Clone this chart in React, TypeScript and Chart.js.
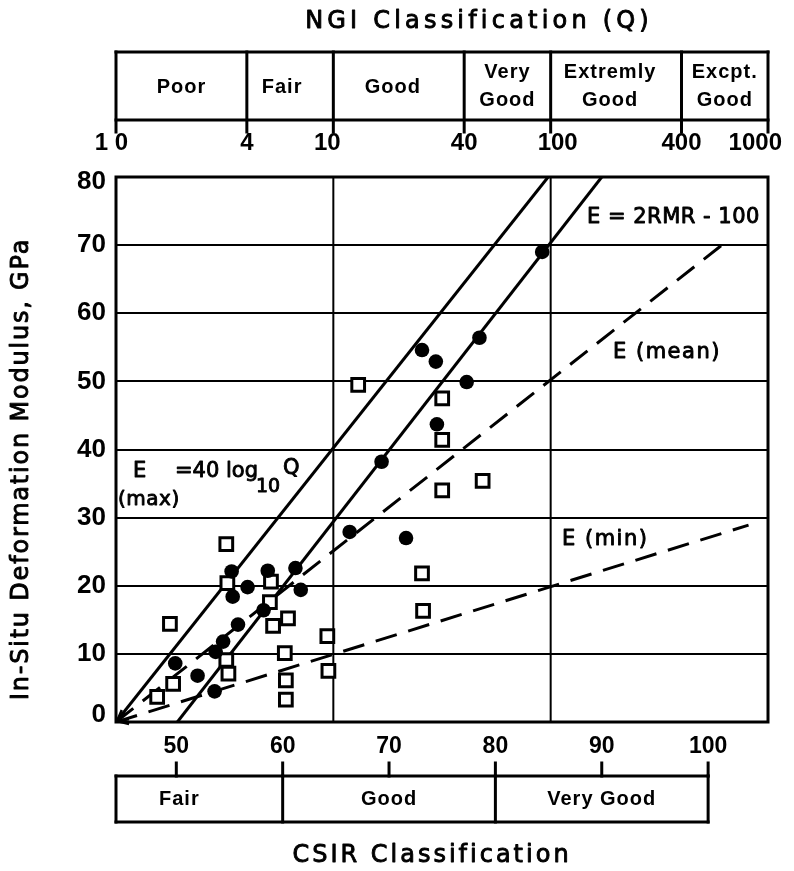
import React, { useEffect, useRef } from "react";
import { Chart, registerables } from "chart.js";

Chart.register(...registerables);

// ---- Data ----
const circleRMR = [84.4, 73.1, 74.4, 78.5, 77.3, 74.5, 69.3, 66.3, 71.6, 61.2, 61.7, 58.6, 55.2, 56.7, 55.3, 58.2, 55.8, 54.4, 53.7, 49.9, 52.0, 53.6];
const circleE = [69.0, 54.6, 52.9, 56.4, 49.9, 43.7, 38.2, 27.9, 27.0, 22.6, 19.4, 22.2, 22.1, 19.8, 18.4, 16.4, 14.3, 11.8, 10.3, 8.6, 6.8, 4.5];

const squareRMR = [54.7, 49.4, 54.8, 58.9, 58.8, 60.5, 59.1, 54.7, 54.9, 49.7, 48.2, 60.2, 60.3, 60.3, 64.2, 64.3, 73.1, 73.2, 75.0, 78.8, 75.0, 75.0, 67.1];
const squareE = [26.1, 14.4, 20.4, 20.6, 17.6, 15.2, 14.1, 9.1, 7.1, 5.6, 3.7, 10.1, 6.1, 3.3, 12.6, 7.5, 21.8, 16.3, 34.0, 35.4, 41.4, 47.5, 49.5];

const lineMaxRMR = [44.33, 84.96];
const lineMaxE = [0, 80];
const lineRmrRMR = [50.1, 90.0];
const lineRmrE = [0, 80];
const lineMeanRMR = [44.33, 102.1];
const lineMeanE = [0, 71];
const lineMinRMR = [44.33, 103.8];
const lineMinE = [0, 28.9];

const rmrMin = 44.33;
const rmrMax = 105.63;
const yTicks = [0, 10, 20, 30, 40, 50, 60, 70, 80];
const rmrTicks = [50, 60, 70, 80, 90, 100];
const qTicks = [1, 4, 10, 40, 100, 400, 1000];
const qTickLabels = ["1 0", "4", "10", "40", "100", "400", "1000"];
const qGrid = [10, 100];
const ngiClasses = [["Poor"], ["Fair"], ["Good"], ["Very", "Good"], ["Extremly", "Good"], ["Excpt.", "Good"]];
const csirBounds = [44.33, 60, 80, 100];
const csirClasses = ["Fair", "Good", "Very Good"];

const pts = (xs: number[], ys: number[]) => xs.map((x, i) => ({ x, y: ys[i] }));

const SANS = '"DejaVu Sans"';
const NUM = '"Liberation Sans"';

function txt(ctx: any, s: string, x: number, y: number, font: string, align: string = "center", spacing = 0, thick = 0) {
  ctx.save();
  ctx.font = font;
  ctx.fillStyle = "#000";
  ctx.strokeStyle = "#000";
  ctx.textAlign = align;
  ctx.textBaseline = "middle";
  ctx.letterSpacing = spacing + "px";
  ctx.fillText(s, x, y);
  if (thick > 0) {
    ctx.lineWidth = thick;
    ctx.lineJoin = "round";
    ctx.strokeText(s, x, y);
  }
  ctx.restore();
}

function seg(ctx: any, x1: number, y1: number, x2: number, y2: number, w: number) {
  ctx.save();
  ctx.strokeStyle = "#000";
  ctx.lineWidth = w;
  ctx.lineCap = "square";
  ctx.beginPath();
  ctx.moveTo(x1, y1);
  ctx.lineTo(x2, y2);
  ctx.stroke();
  ctx.restore();
}

const decor = {
  id: "decor",
  beforeDatasetsDraw(chart: any) {
    const { ctx, chartArea: a, scales } = chart;
    const q = scales.q;
    qGrid.forEach((v) => {
      const x = q.getPixelForValue(v);
      seg(ctx, x, a.top, x, a.bottom, 2);
    });
  },
  afterDatasetsDraw(chart: any) {
    const { ctx, chartArea: a, scales } = chart;
    const q = scales.q;
    const xs = scales.x;
    const ys = scales.y;

    // frame
    ctx.save();
    ctx.strokeStyle = "#000";
    ctx.lineWidth = 3;
    ctx.strokeRect(a.left, a.top, a.right - a.left, a.bottom - a.top);
    ctx.restore();

    // arrowheads at origin for dashed lines
    [[lineMeanRMR, lineMeanE], [lineMinRMR, lineMinE]].forEach(([lx, ly]) => {
      const x0 = xs.getPixelForValue(lx[0]);
      const y0 = ys.getPixelForValue(ly[0]);
      const x1 = xs.getPixelForValue(lx[1]);
      const y1 = ys.getPixelForValue(ly[1]);
      const ang = Math.atan2(y1 - y0, x1 - x0);
      const L = 12;
      seg(ctx, x0 + 1, y0 - 1, x0 + L * Math.cos(ang + 0.45), y0 + L * Math.sin(ang + 0.45), 2.5);
      seg(ctx, x0 + 1, y0 - 1, x0 + L * Math.cos(ang - 0.45), y0 + L * Math.sin(ang - 0.45), 2.5);
    });

    // y tick labels
    yTicks.forEach((v) => {
      let y = ys.getPixelForValue(v);
      if (v === 80) y += 5;
      if (v === 0) y -= 7;
      txt(ctx, String(v), a.left - 10, y, `bold 26px ${NUM}`, "right");
    });

    // y title
    ctx.save();
    ctx.translate(22, 469);
    ctx.rotate(-Math.PI / 2);
    txt(ctx, "In-Situ Deformation Modulus, GPa", 0, 0, `24px ${SANS}`, "center", 1.8, 0.9);
    ctx.restore();

    // ---- NGI (top) ----
    txt(ctx, "NGI Classification (Q)", 479, 22, `24px ${SANS}`, "center", 4.2, 0.9);
    const bTop = 52, bBot = 120;
    seg(ctx, q.getPixelForValue(qTicks[0]), bTop, q.getPixelForValue(qTicks[qTicks.length - 1]), bTop, 3);
    seg(ctx, q.getPixelForValue(qTicks[0]), bBot, q.getPixelForValue(qTicks[qTicks.length - 1]), bBot, 3);
    qTicks.forEach((v, i) => {
      const x = q.getPixelForValue(v);
      seg(ctx, x, bTop, x, bBot + 12, 3);
      let lx = x, align = "center";
      if (i === 0) { lx = x + 12; align = "right"; }
      else if (i === qTicks.length - 1) { lx = x + 14; align = "right"; }
      else if (v === 10) lx = x - 6;
      else if (v === 100) lx = x + 7;
      txt(ctx, qTickLabels[i], lx, 143, `bold 24px ${NUM}`, align);
    });
    ngiClasses.forEach((lines, i) => {
      let x = (q.getPixelForValue(qTicks[i]) + q.getPixelForValue(qTicks[i + 1])) / 2;
      if (i === 1) x -= 8;
      if (i === 2 || i === 4) x -= 6;
      if (lines.length === 1) txt(ctx, lines[0], x, 87, `bold 20px ${NUM}`, "center", 1);
      else {
        txt(ctx, lines[0], x, 72, `bold 20px ${NUM}`, "center", 1);
        txt(ctx, lines[1], x, 100, `bold 20px ${NUM}`, "center", 1);
      }
    });

    // ---- CSIR (bottom) ----
    const cTop = 776, cBot = 822;
    rmrTicks.forEach((v) => {
      const x = xs.getPixelForValue(v);
      txt(ctx, String(v), x, 747, `bold 23px ${NUM}`, "center");
      seg(ctx, x, cTop - 13, x, cTop, 3);
    });
    const cx = csirBounds.map((v) => xs.getPixelForValue(v));
    seg(ctx, cx[0], cTop, cx[cx.length - 1], cTop, 3);
    seg(ctx, cx[0], cBot, cx[cx.length - 1], cBot, 3);
    cx.forEach((x) => seg(ctx, x, cTop, x, cBot, 3));
    csirClasses.forEach((s, i) => {
      txt(ctx, s, (cx[i] + cx[i + 1]) / 2 - (i === 0 ? 20 : 0), 799, `bold 20px ${NUM}`, "center", 1);
    });
    txt(ctx, "CSIR Classification", 432, 856, `24px ${SANS}`, "center", 3, 0.9);

    // ---- in-plot annotations ----
    txt(ctx, "E = 2RMR - 100", 587, 218, `21px ${SANS}`, "left", 0.5, 0.9);
    txt(ctx, "E (mean)", 613, 353, `21px ${SANS}`, "left", 1.5, 0.9);
    txt(ctx, "E (min)", 562, 540, `21px ${SANS}`, "left", 1.5, 0.9);
    txt(ctx, "E", 133, 472, `21px ${SANS}`, "left", 0, 0.9);
    txt(ctx, "=40 log", 175, 472, `21px ${SANS}`, "left", 0, 0.9);
    txt(ctx, "10", 256, 487, `19px ${SANS}`, "left", 0, 0.9);
    txt(ctx, "Q", 283, 469, `21px ${SANS}`, "left", 0, 0.9);
    txt(ctx, "(max)", 118, 500, `20px ${SANS}`, "left", 0.5, 0.9);
  },
};

export default function App() {
  const ref = useRef<HTMLCanvasElement>(null);
  useEffect(() => {
    const canvas = ref.current!;
    const lineDs = (xs: number[], ys: number[], dash: number[]) => ({
      data: pts(xs, ys),
      showLine: true,
      pointRadius: 0,
      borderColor: "#000",
      borderWidth: 3,
      borderDash: dash,
      borderCapStyle: "butt",
      fill: false,
      order: 3,
    });
    const chart = new Chart(canvas, {
      type: "scatter",
      data: {
        datasets: [
          {
            data: pts(circleRMR, circleE),
            pointStyle: "circle",
            pointRadius: 7.3,
            backgroundColor: "#000",
            borderColor: "#000",
            borderWidth: 0,
            order: 1,
          },
          {
            data: pts(squareRMR, squareE),
            pointStyle: "rect",
            pointRadius: 9.0,
            backgroundColor: "#fff",
            borderColor: "#000",
            borderWidth: 3,
            order: 2,
          },
          lineDs(lineMaxRMR, lineMaxE, []),
          lineDs(lineRmrRMR, lineRmrE, []),
          lineDs(lineMeanRMR, lineMeanE, [22, 12]),
          lineDs(lineMinRMR, lineMinE, [22, 12]),
        ] as any,
      },
      options: {
        responsive: false,
        animation: false,
        devicePixelRatio: 1,
        events: [],
        layout: { padding: { left: 116, right: 26, top: 177, bottom: 149 } },
        plugins: { legend: { display: false }, tooltip: { enabled: false } },
        scales: {
          x: { type: "linear", min: rmrMin, max: rmrMax, display: false },
          q: { type: "logarithmic", axis: "x", position: "top", min: 1, max: 1000, display: false },
          y: {
            type: "linear",
            min: 0,
            max: 80,
            display: true,
            ticks: { display: false, stepSize: 10 },
            grid: { color: "#000", lineWidth: 2, drawTicks: false },
            border: { display: false },
          },
        },
      } as any,
      plugins: [decor],
    });
    return () => chart.destroy();
  }, []);
  return (
    <div style={{ position: "absolute", left: 0, top: 0, width: 794, height: 871, background: "#fff" }}>
      <canvas ref={ref} width={794} height={871} style={{ display: "block", width: 794, height: 871 }} />
    </div>
  );
}
